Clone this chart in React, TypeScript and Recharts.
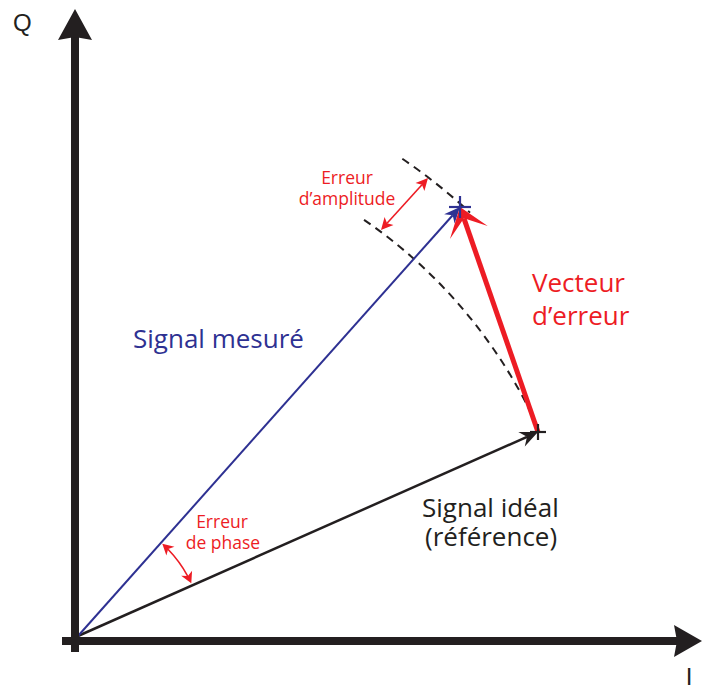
import React from 'react';
import { ComposedChart, XAxis, YAxis, Scatter, ReferenceLine, ReferenceDot } from 'recharts';

// I/Q plane, vectors start at the origin (0, 0)
const idealEnd = { i: 460, q: 204 };
const measuredEnd = { i: 382, q: 429 };
const endMarkers = [
  { i: 460, q: 204, kind: 'ideal' },
  { i: 382, q: 429, kind: 'measured' },
];

// dashed construction arcs (radius, start angle, end angle in degrees)
const arcRadii = [505, 577];
const arcStartAngles = [55.5, 55.8];
const arcEndAngles = [23.9, 47.2];

// error markers
const amplitudeErrorFrom = { i: 303, q: 406 };
const amplitudeErrorTo = { i: 350, q: 458 };
const phaseErrorRadius = 125;
const phaseErrorAngles = [47.6, 25];

const axisNames = ['Q', 'I'];
const measuredLabel = ['Signal mesuré'];
const errorVectorLabel = ['Vecteur', 'd’erreur'];
const idealLabel = ['Signal idéal', '(référence)'];
const amplitudeLabel = ['Erreur', 'd’amplitude'];
const phaseLabel = ['Erreur', 'de phase'];

const RED = '#ED1C24';
const BLUE = '#2E3192';
const BLACK = '#231F20';
const SANS = '"Open Sans", "Noto Sans", sans-serif';

const polar = (r: number, deg: number) => ({
  x: r * Math.cos((deg * Math.PI) / 180),
  y: r * Math.sin((deg * Math.PI) / 180),
});

const headPath = (x1: number, y1: number, x2: number, y2: number, len: number, half: number, notch: number) => {
  const d = Math.hypot(x2 - x1, y2 - y1) || 1;
  const ux = (x2 - x1) / d;
  const uy = (y2 - y1) / d;
  const px = -uy;
  const py = ux;
  const bx = x2 - ux * len;
  const by = y2 - uy * len;
  const nx = x2 - ux * (len - notch);
  const ny = y2 - uy * (len - notch);
  return `M${x2},${y2} L${bx + px * half},${by + py * half} L${nx},${ny} L${bx - px * half},${by - py * half} Z`;
};

const vectorShape =
  (color: string, width: number, len: number, half: number, notch: number, both = false) =>
  (props: any) => {
    const { x1, y1, x2, y2 } = props;
    const d = Math.hypot(x2 - x1, y2 - y1) || 1;
    const ux = (x2 - x1) / d;
    const uy = (y2 - y1) / d;
    const back = len - notch;
    const sx = both ? x1 + ux * back : x1;
    const sy = both ? y1 + uy * back : y1;
    return (
      <g>
        <line x1={sx} y1={sy} x2={x2 - ux * back} y2={y2 - uy * back} stroke={color} strokeWidth={width} />
        <path d={headPath(x1, y1, x2, y2, len, half, notch)} fill={color} />
        {both && <path d={headPath(x2, y2, x1, y1, len, half, notch)} fill={color} />}
      </g>
    );
  };

// segment runs from the centre to the arc start; the arc sweeps clockwise by `sweep` degrees
const arcShape =
  (sweep: number, color: string, width: number, dash?: string, heads = false) =>
  (props: any) => {
    const { x1, y1, x2, y2 } = props;
    const r = Math.hypot(x2 - x1, y2 - y1);
    const t0 = Math.atan2(y1 - y2, x2 - x1);
    const t1 = t0 - (sweep * Math.PI) / 180;
    const ex = x1 + r * Math.cos(t1);
    const ey = y1 - r * Math.sin(t1);
    const large = sweep > 180 ? 1 : 0;
    const L = 11;
    const hs = heads
      ? [
          headPath(x2 + Math.sin(t0), y2 + Math.cos(t0), x2, y2, L, 6, 3),
          headPath(ex - Math.sin(t1), ey - Math.cos(t1), ex, ey, L, 6, 3),
        ]
      : [];
    const a0 = heads ? t0 - (L - 3) / r : t0;
    const a1 = heads ? t1 + (L - 3) / r : t1;
    return (
      <g>
        <path
          d={`M${x1 + r * Math.cos(a0)},${y1 - r * Math.sin(a0)} A${r},${r} 0 ${large} 1 ${x1 + r * Math.cos(a1)},${y1 - r * Math.sin(a1)}`}
          fill="none"
          stroke={color}
          strokeWidth={width}
          strokeDasharray={dash}
        />
        {hs.map((p, k) => (
          <path key={k} d={p} fill={color} />
        ))}
      </g>
    );
  };

const textShape =
  (text: string, color: string, size: number, anchor: 'start' | 'middle' = 'start', family = SANS) =>
  (props: any) =>
    (
      <text x={props.cx} y={props.cy} fill={color} fontSize={size} fontFamily={family} textAnchor={anchor}>
        {text}
      </text>
    );

const crossShape = (props: any) => {
  const { cx, cy, payload } = props;
  const arm = payload.kind === 'measured' ? 11 : 8;
  const color = payload.kind === 'measured' ? BLUE : BLACK;
  return (
    <g stroke={color} strokeWidth={2.2}>
      <line x1={cx - arm} y1={cy} x2={cx + arm} y2={cy} />
      <line x1={cx} y1={cy - arm} x2={cx} y2={cy + arm} />
    </g>
  );
};

export default function App() {
  const o = { x: 0, y: 0 };
  const phaseStart = polar(phaseErrorRadius, phaseErrorAngles[0]);
  return (
    <div style={{ width: 703, height: 689 }}>
      <style>{'body{margin:0}'}</style>
      <ComposedChart width={703} height={689} margin={{ top: 0, right: 0, bottom: 0, left: 0 }}>
        <XAxis type="number" dataKey="i" domain={[-78, 625]} allowDataOverflow hide />
        <YAxis type="number" dataKey="q" domain={[-53, 636]} allowDataOverflow hide />

        {arcRadii.map((r, k) => (
          <ReferenceLine
            key={`arc${k}`}
            ifOverflow="visible"
            segment={[o, polar(r, arcStartAngles[k])]}
            shape={arcShape(arcStartAngles[k] - arcEndAngles[k], BLACK, 2, '8 6')}
          />
        ))}

        <ReferenceLine
          ifOverflow="visible"
          segment={[o, { x: idealEnd.i, y: idealEnd.q }]}
          shape={vectorShape(BLACK, 2.5, 18, 8, 6)}
        />
        <ReferenceLine
          ifOverflow="visible"
          segment={[o, { x: measuredEnd.i, y: measuredEnd.q }]}
          shape={vectorShape(BLUE, 2, 16, 7, 5)}
        />
        <ReferenceLine
          ifOverflow="visible"
          segment={[
            { x: idealEnd.i, y: idealEnd.q },
            { x: measuredEnd.i, y: measuredEnd.q },
          ]}
          shape={vectorShape(RED, 5, 27, 20, 15)}
        />

        <ReferenceLine
          ifOverflow="visible"
          segment={[
            { x: amplitudeErrorFrom.i, y: amplitudeErrorFrom.q },
            { x: amplitudeErrorTo.i, y: amplitudeErrorTo.q },
          ]}
          shape={vectorShape(RED, 1.6, 12, 6, 3, true)}
        />
        <ReferenceLine
          ifOverflow="visible"
          segment={[o, phaseStart]}
          shape={arcShape(phaseErrorAngles[0] - phaseErrorAngles[1], RED, 1.6, undefined, true)}
        />

        {/* axes */}
        <ReferenceLine
          ifOverflow="visible"
          segment={[
            { x: -3, y: -16 },
            { x: -3, y: 627 },
          ]}
          shape={vectorShape(BLACK, 8, 31, 17, 3)}
        />
        <ReferenceLine
          ifOverflow="visible"
          segment={[
            { x: -16, y: -5 },
            { x: 624, y: -5 },
          ]}
          shape={vectorShape(BLACK, 8, 28, 16, 3)}
        />

        <Scatter data={endMarkers} shape={crossShape} isAnimationActive={false} />

        <ReferenceDot x={-65} y={605} ifOverflow="visible" shape={textShape(axisNames[0], BLACK, 24, 'start', '"Liberation Sans", Arial, sans-serif')} />
        <ReferenceDot x={611} y={-49} ifOverflow="visible" shape={textShape(axisNames[1], BLACK, 24, 'middle', '"Liberation Sans", Arial, sans-serif')} />

        <ReferenceDot x={55} y={288} ifOverflow="visible" shape={textShape(measuredLabel[0], BLUE, 26)} />
        <ReferenceDot x={454} y={344} ifOverflow="visible" shape={textShape(errorVectorLabel[0], RED, 26)} />
        <ReferenceDot x={454} y={311} ifOverflow="visible" shape={textShape(errorVectorLabel[1], RED, 26)} />
        <ReferenceDot x={344} y={119} ifOverflow="visible" shape={textShape(idealLabel[0], BLACK, 26)} />
        <ReferenceDot x={347} y={90} ifOverflow="visible" shape={textShape(idealLabel[1], BLACK, 26)} />

        <ReferenceDot x={269} y={452} ifOverflow="visible" shape={textShape(amplitudeLabel[0], RED, 17.5, 'middle')} />
        <ReferenceDot x={269} y={431} ifOverflow="visible" shape={textShape(amplitudeLabel[1], RED, 17.5, 'middle')} />
        <ReferenceDot x={144} y={108} ifOverflow="visible" shape={textShape(phaseLabel[0], RED, 17.5, 'middle')} />
        <ReferenceDot x={145} y={87} ifOverflow="visible" shape={textShape(phaseLabel[1], RED, 17.5, 'middle')} />
      </ComposedChart>
    </div>
  );
}
